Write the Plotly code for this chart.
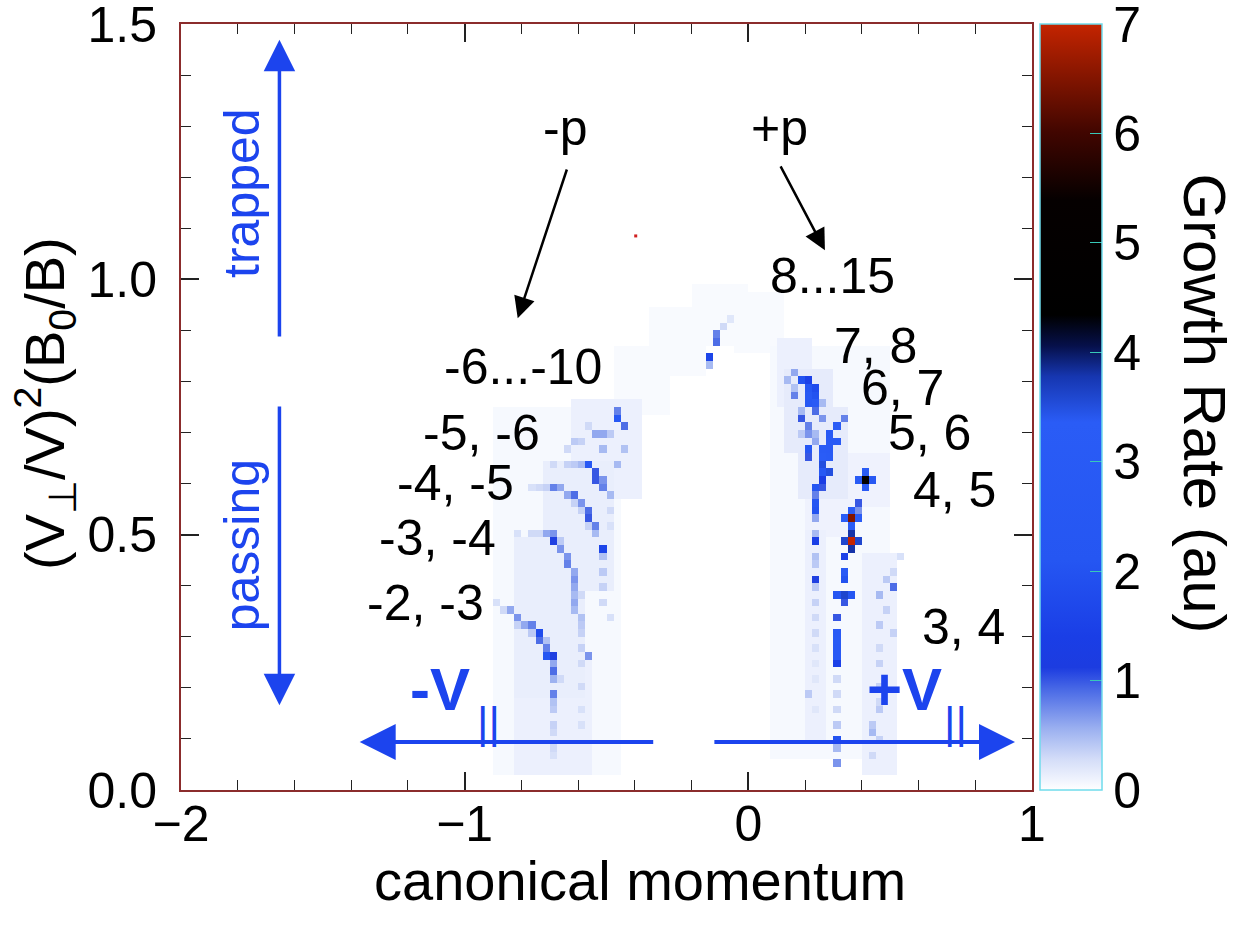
import numpy as np
import plotly.graph_objects as go

# ---------------- grid of the growth-rate map ----------------
X_MIN, X_MAX, DX = -2.0, 1.0, 0.025
Y_MIN, Y_MAX, DY = 0.0, 1.5, 0.015

# faint background haze: (x0, x1, y0, y1, growth rate)
HAZE_BOXES = [
    (-0.88, -0.46, 0.03, 0.74, 0.05),
    (-0.60, -0.40, 0.58, 0.76, 0.12),
    (-0.72, -0.50, 0.40, 0.64, 0.14),
    (-0.82, -0.58, 0.18, 0.48, 0.14),
    (-0.80, -0.55, 0.03, 0.25, 0.12),
    (-0.46, -0.30, 0.74, 0.86, 0.04),
    (-0.34, -0.16, 0.82, 0.94, 0.04),
    (-0.20, -0.02, 0.88, 0.98, 0.04),
    (-0.04, 0.12, 0.86, 0.96, 0.04),
    (0.08, 0.48, 0.06, 0.86, 0.05),
    (0.10, 0.22, 0.76, 0.88, 0.12),
    (0.14, 0.28, 0.66, 0.82, 0.16),
    (0.18, 0.34, 0.58, 0.74, 0.16),
    (0.20, 0.36, 0.50, 0.62, 0.10),
    (0.20, 0.27, 0.10, 0.50, 0.12),
    (0.42, 0.52, 0.03, 0.45, 0.12),
    (0.36, 0.48, 0.56, 0.65, 0.10),
]

# resonance streaks: (canonical momentum, pitch variable, growth rate)
LEFT_M23 = [(-0.88, 0.36, 0.25), (-0.86, 0.355, 0.3), (-0.835, 0.352, 0.6), (-0.81, 0.34, 0.5),
            (-0.80, 0.33, 0.7), (-0.78, 0.32, 0.6), (-0.76, 0.315, 0.8), (-0.742, 0.309, 1.8),
            (-0.735, 0.295, 0.9), (-0.72, 0.283, 0.8), (-0.707, 0.268, 2.2), (-0.70, 0.255, 1.1),
            (-0.695, 0.24, 0.6), (-0.693, 0.229, 0.9), (-0.69, 0.215, 0.55), (-0.693, 0.19, 0.8),
            (-0.69, 0.17, 0.45), (-0.688, 0.15, 0.4), (-0.685, 0.13, 0.35), (-0.68, 0.11, 0.3),
            (-0.68, 0.08, 0.3), (-0.675, 0.06, 0.25), (-0.81, 0.325, 0.35), (-0.765, 0.30, 0.4),
            (-0.71, 0.285, 0.45), (-0.68, 0.25, 0.35), (-0.67, 0.21, 0.3)]
LEFT_M34 = [(-0.80, 0.503, 0.25), (-0.77, 0.503, 0.3), (-0.74, 0.503, 0.3), (-0.711, 0.503, 0.6),
            (-0.695, 0.495, 0.7), (-0.676, 0.484, 1.1), (-0.66, 0.47, 0.7), (-0.645, 0.455, 0.7),
            (-0.63, 0.444, 0.8), (-0.62, 0.43, 0.6), (-0.62, 0.417, 0.7), (-0.615, 0.40, 0.6),
            (-0.61, 0.385, 0.5), (-0.605, 0.37, 0.6), (-0.60, 0.355, 0.5), (-0.598, 0.34, 0.45),
            (-0.595, 0.32, 0.4), (-0.59, 0.30, 0.35), (-0.588, 0.27, 0.35), (-0.57, 0.268, 0.7),
            (-0.585, 0.24, 0.3), (-0.585, 0.20, 0.3), (-0.58, 0.16, 0.25), (-0.58, 0.12, 0.25),
            (-0.66, 0.485, 0.4), (-0.63, 0.46, 0.4), (-0.60, 0.42, 0.35), (-0.59, 0.38, 0.3)]
LEFT_M45 = [(-0.77, 0.585, 0.25), (-0.74, 0.588, 0.3), (-0.71, 0.59, 0.35), (-0.676, 0.591, 0.8),
            (-0.655, 0.585, 0.6), (-0.63, 0.58, 0.6), (-0.605, 0.574, 0.9), (-0.59, 0.56, 0.7),
            (-0.57, 0.548, 0.9), (-0.56, 0.533, 1.0), (-0.541, 0.513, 0.8), (-0.535, 0.50, 0.5),
            (-0.524, 0.47, 1.6), (-0.52, 0.45, 0.45), (-0.515, 0.43, 0.4), (-0.51, 0.40, 0.35),
            (-0.505, 0.37, 0.3), (-0.50, 0.34, 0.25), (-0.62, 0.565, 0.35), (-0.585, 0.545, 0.35),
            (-0.555, 0.52, 0.35)]
LEFT_M56 = [(-0.676, 0.632, 0.3), (-0.65, 0.632, 0.35), (-0.62, 0.632, 0.4), (-0.585, 0.632, 0.5),
            (-0.552, 0.632, 2.6), (-0.54, 0.62, 1.0), (-0.531, 0.611, 1.0), (-0.52, 0.60, 0.7),
            (-0.506, 0.597, 0.8), (-0.49, 0.574, 0.5), (-0.464, 0.632, 0.5), (-0.48, 0.55, 0.3),
            (-0.475, 0.52, 0.25)]
LEFT_TOP = [(-0.46, 0.722, 2.6), (-0.45, 0.71, 0.9), (-0.47, 0.735, 0.8), (-0.436, 0.71, 0.5),
            (-0.535, 0.69, 0.6), (-0.513, 0.69, 0.6), (-0.605, 0.685, 0.4), (-0.58, 0.688, 0.35),
            (-0.513, 0.662, 0.5), (-0.436, 0.662, 0.45), (-0.64, 0.662, 0.3), (-0.55, 0.705, 0.3),
            (-0.49, 0.70, 0.4)]
RIGHT_BLOB = [(-0.12, 0.885, 0.8), (-0.10, 0.885, 0.6), (-0.125, 0.87, 0.9), (-0.13, 0.852, 1.6),
              (-0.13, 0.838, 0.5), (-0.09, 0.90, 0.3), (-0.07, 0.915, 0.2)]
RIGHT_CLUSTER = [(0.146, 0.80, 0.5), (0.16, 0.815, 0.6), (0.171, 0.773, 0.8), (0.175, 0.82, 0.6),
                 (0.189, 0.803, 2.0), (0.206, 0.803, 1.5), (0.224, 0.803, 1.3), (0.206, 0.773, 2.2),
                 (0.227, 0.764, 3.0), (0.234, 0.75, 3.0), (0.227, 0.785, 1.8), (0.199, 0.728, 1.0),
                 (0.21, 0.709, 0.8), (0.217, 0.69, 0.7), (0.217, 0.672, 2.4), (0.217, 0.652, 1.0),
                 (0.24, 0.735, 0.9), (0.25, 0.72, 0.7), (0.263, 0.66, 3.2), (0.27, 0.64, 3.5),
                 (0.277, 0.627, 3.5), (0.255, 0.645, 2.0), (0.265, 0.625, 2.6), (0.288, 0.679, 3.0),
                 (0.312, 0.681, 3.0), (0.316, 0.709, 3.3), (0.30, 0.695, 2.0), (0.28, 0.66, 2.6),
                 (0.256, 0.597, 1.0), (0.33, 0.725, 0.8), (0.27, 0.61, 1.3), (0.19, 0.74, 0.5),
                 (0.18, 0.70, 0.4), (0.235, 0.70, 0.5), (0.16, 0.79, 0.45), (0.20, 0.755, 0.6),
                 (0.24, 0.68, 0.6), (0.29, 0.70, 0.8), (0.25, 0.76, 0.5),
                 (0.20, 0.79, 2.4), (0.215, 0.775, 2.8), (0.24, 0.765, 2.0), (0.22, 0.75, 2.6),
                 (0.255, 0.67, 3.0), (0.28, 0.645, 3.2), (0.29, 0.69, 2.8), (0.30, 0.67, 3.0),
                 (0.265, 0.65, 3.3)]
RIGHT_COL_A = [(0.245, 0.597, 2.2), (0.245, 0.58, 0.8), (0.245, 0.562, 2.2), (0.245, 0.542, 2.0),
               (0.245, 0.525, 0.6), (0.245, 0.505, 0.5), (0.245, 0.484, 1.4), (0.245, 0.46, 0.45),
               (0.245, 0.44, 0.4), (0.245, 0.411, 1.1), (0.245, 0.39, 0.4), (0.245, 0.36, 0.35),
               (0.245, 0.33, 0.3), (0.245, 0.30, 0.3), (0.24, 0.27, 0.25), (0.235, 0.24, 0.2),
               (0.23, 0.21, 0.2), (0.224, 0.18, 0.4), (0.225, 0.15, 0.2)]
RIGHT_COL_B = [(0.418, 0.601, 5.0), (0.40, 0.601, 3.2), (0.435, 0.601, 2.5), (0.418, 0.616, 3.2),
               (0.418, 0.586, 3.0), (0.393, 0.568, 1.0), (0.383, 0.554, 0.7), (0.369, 0.533, 6.5),
               (0.345, 0.533, 3.3), (0.393, 0.533, 3.3), (0.369, 0.548, 3.3), (0.369, 0.518, 3.3),
               (0.351, 0.486, 7.0), (0.327, 0.486, 3.6), (0.375, 0.486, 3.6), (0.351, 0.501, 3.8),
               (0.351, 0.471, 3.8), (0.345, 0.455, 1.5), (0.340, 0.431, 3.0), (0.340, 0.416, 2.0),
               (0.333, 0.388, 3.6), (0.315, 0.388, 2.2), (0.35, 0.388, 2.2), (0.333, 0.372, 1.0),
               (0.32, 0.338, 1.0), (0.323, 0.31, 3.0), (0.323, 0.295, 3.2), (0.323, 0.28, 3.0),
               (0.323, 0.268, 3.0), (0.323, 0.25, 1.5), (0.32, 0.22, 0.3), (0.315, 0.19, 0.3),
               (0.312, 0.15, 0.3), (0.312, 0.12, 0.4), (0.312, 0.098, 2.0), (0.312, 0.08, 0.5),
               (0.312, 0.059, 0.7)]
RIGHT_FAINT = [(0.507, 0.40, 0.9), (0.49, 0.41, 0.4), (0.474, 0.388, 0.5), (0.488, 0.346, 0.35),
               (0.457, 0.319, 0.4), (0.50, 0.307, 0.35), (0.46, 0.28, 0.3), (0.453, 0.24, 0.35),
               (0.474, 0.20, 0.35), (0.453, 0.15, 0.4), (0.446, 0.11, 0.5), (0.464, 0.09, 0.35),
               (0.44, 0.06, 0.3), (0.52, 0.43, 0.3), (0.54, 0.455, 0.25), (0.445, 0.13, 0.4),
               (0.47, 0.17, 0.3)]
SPECK_X = [-0.397]
SPECK_Y = [1.085]

STREAKS = [LEFT_M23, LEFT_M34, LEFT_M45, LEFT_M56, LEFT_TOP, RIGHT_BLOB,
           RIGHT_CLUSTER, RIGHT_COL_A, RIGHT_COL_B, RIGHT_FAINT]

# ticks
CB_TICKS = [0, 1, 2, 3, 4, 5, 6, 7]
X_TICKS = [-2, -1, 0, 1]
Y_TICKS = [0.0, 0.5, 1.0, 1.5]
Y_TICKTEXT = ["0.0", "0.5", "1.0", "1.5"]

# ---------------- build the map ----------------
nx = int(round((X_MAX - X_MIN) / DX))
ny = int(round((Y_MAX - Y_MIN) / DY))
xc = X_MIN + DX * (np.arange(nx) + 0.5)
yc = Y_MIN + DY * (np.arange(ny) + 0.5)
z = np.zeros((ny, nx))

for x0, x1, y0, y1, v in HAZE_BOXES:
    i0, i1 = int((x0 - X_MIN) / DX), int((x1 - X_MIN) / DX)
    j0, j1 = int((y0 - Y_MIN) / DY), int((y1 - Y_MIN) / DY)
    z[j0:j1 + 1, i0:i1 + 1] = np.maximum(z[j0:j1 + 1, i0:i1 + 1], v)

for streak in STREAKS:
    for x, y, v in streak:
        i = int((x - X_MIN) / DX)
        j = int((y - Y_MIN) / DY)
        z[j, i] = max(z[j, i], v)

colorscale = [
    [0.000, "#ffffff"], [0.010, "#f3f6fe"], [0.040, "#d4ddf8"], [0.080, "#9bb0f0"],
    [0.130, "#4b6be6"], [0.160, "#1c3ce0"], [0.200, "#1a3ee6"], [0.300, "#2556f2"],
    [0.480, "#2a5cf6"], [0.540, "#1636b0"], [0.580, "#06104a"], [0.620, "#000000"],
    [0.770, "#050000"], [0.860, "#420600"], [1.000, "#c42400"],
]

BLUE = "#1c44ee"
FONT = "Liberation Sans, Arial, sans-serif"

fig = go.Figure()
fig.add_trace(go.Heatmap(
    x=xc, y=yc, z=z, zmin=0, zmax=7, colorscale=colorscale, zsmooth=False,
    hoverinfo="skip",
    colorbar=dict(
        x=1.0094, xanchor="left", xpad=0, y=0.5, yanchor="middle", ypad=0,
        len=1, lenmode="fraction", thickness=62,
        outlinecolor="#6fdcec", outlinewidth=1.5,
        tickvals=CB_TICKS, ticks="inside", ticklen=12, tickwidth=1.2,
        tickcolor="#38c8b8", tickfont=dict(family=FONT, size=50, color="black"),
        ticklabeloverflow="allow",
    ),
))
fig.add_trace(go.Scatter(x=SPECK_X, y=SPECK_Y, mode="markers",
                         marker=dict(color="#d02020", size=3, symbol="square"),
                         hoverinfo="skip", showlegend=False))

axis_common = dict(
    showgrid=False, zeroline=False, showline=True, linecolor="#8b2c2c", linewidth=2,
    mirror="allticks", ticks="inside", ticklen=18, tickwidth=1.5, tickcolor="#222222",
    tickfont=dict(family=FONT, size=50, color="black"), ticklabeloverflow="allow",
)
fig.update_xaxes(range=[X_MIN, X_MAX], tickvals=X_TICKS, ticklabelstandoff=-11,
                 minor=dict(dtick=0.2, ticks="inside", ticklen=10, tickcolor="#222222", tickwidth=1.2),
                 **axis_common)
fig.update_yaxes(range=[Y_MIN, Y_MAX], tickvals=Y_TICKS, ticktext=Y_TICKTEXT, ticklabelstandoff=12,
                 minor=dict(dtick=0.1, ticks="inside", ticklen=10, tickcolor="#222222", tickwidth=1.2),
                 **axis_common)

ann = []
def label(x, y, text, size=50, color="black", angle=0, bold=False, xref="x", yref="y"):
    ann.append(dict(x=x, y=y, xref=xref, yref=yref, text=(f"<b>{text}</b>" if bold else text),
                    showarrow=False, textangle=angle, xanchor="center", yanchor="middle",
                    font=dict(family=FONT, size=size, color=color)))

def arrow(xh, yh, xt, yt, color, width, size):
    ann.append(dict(x=xh, y=yh, ax=xt, ay=yt, xref="x", yref="y", axref="x", ayref="y",
                    text="", showarrow=True, arrowhead=2, arrowsize=size, arrowwidth=width,
                    arrowcolor=color, standoff=0, startstandoff=0))

# resonance labels
for x, y, t in [(-0.647, 1.296, "-p"), (0.111, 1.296, "+p"),
                (0.295, 1.007, "8...15"), (0.447, 0.869, "7, 8"), (0.542, 0.787, "6, 7"),
                (0.637, 0.699, "5, 6"), (0.728, 0.587, "4, 5"), (0.760, 0.319, "3, 4"),
                (-0.795, 0.828, "-6...-10"), (-0.940, 0.699, "-5, -6"), (-1.032, 0.601, "-4, -5"),
                (-1.095, 0.493, "-3, -4"), (-1.138, 0.366, "-2, -3")]:
    label(x, y, t, size=50)

arrow(-0.813, 0.924, -0.638, 1.218, "black", 2.5, 1.7)
arrow(0.270, 1.057, 0.111, 1.224, "black", 2.5, 1.7)

# trapped / passing
label(-1.787, 1.17, "trapped", size=50, color=BLUE, angle=-90)
label(-1.787, 0.48, "passing", size=50, color=BLUE, angle=-90)
arrow(-1.653, 1.469, -1.653, 0.885, BLUE, 3.5, 1.8)
arrow(-1.653, 0.166, -1.653, 0.754, BLUE, 3.5, 1.8)

# parallel velocity arrows
arrow(-1.370, 0.094, -0.330, 0.094, BLUE, 4, 1.8)
arrow(0.940, 0.094, -0.125, 0.094, BLUE, 4, 1.8)
label(-1.088, 0.196, "-V", size=60, color=BLUE, bold=True)
label(0.552, 0.196, "+V", size=60, color=BLUE, bold=True)
label(-0.915, 0.133, "||", size=44, color=BLUE)
label(0.732, 0.133, "||", size=44, color=BLUE)

# axis titles
label(0.539, -0.118, "canonical momentum", size=56, xref="paper", yref="paper")
label(-0.16, 0.505, "(V<sub>⊥</sub>/V)<sup>2</sup>(B<sub>0</sub>/B)", size=56, angle=-90,
      xref="paper", yref="paper")
label(1.203, 0.505, "Growth Rate (au)", size=60, angle=90, xref="paper", yref="paper")

fig.update_layout(
    width=1238, height=929, margin=dict(l=181, r=206, t=24, b=139, autoexpand=False),
    paper_bgcolor="white", plot_bgcolor="white", showlegend=False,
    annotations=ann, font=dict(family=FONT, color="black"),
)
fig.write_html("out.html")
